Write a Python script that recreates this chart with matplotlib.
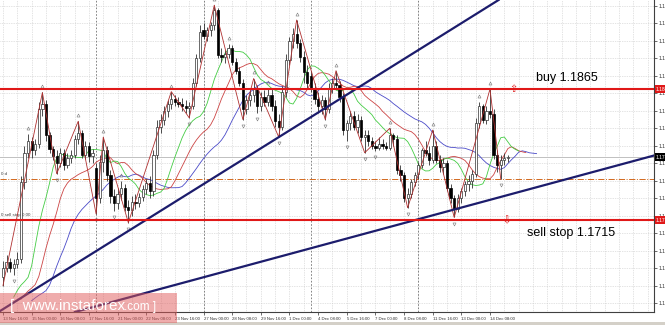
import numpy as np
import matplotlib
matplotlib.use('Agg')
import matplotlib.pyplot as plt
from matplotlib.patches import Rectangle

# EURUSD H4 candles, 13 Nov 16:00 .. 15 Dec 04:00
opens = [1.1650, 1.1660,
         1.1667, 1.1660, 1.1665, 1.1670, 1.1758, 1.1792,
         1.1806, 1.1795, 1.1802, 1.1842, 1.1848, 1.1812,
         1.1796, 1.1788, 1.1780, 1.1792, 1.1778, 1.1786,
         1.1790, 1.1808, 1.1815, 1.1790, 1.1800, 1.1788,
         1.1775, 1.1740, 1.1782, 1.1795, 1.1766, 1.1742,
         1.1735, 1.1745, 1.1752, 1.1730, 1.1726, 1.1736,
         1.1734, 1.1741, 1.1750, 1.1757, 1.1748, 1.1790,
         1.1822, 1.1830, 1.1840, 1.1848, 1.1854, 1.1850,
         1.1848, 1.1846, 1.1843, 1.1846, 1.1872, 1.1900,
         1.1933, 1.1926, 1.1932, 1.1938, 1.1955, 1.1904,
         1.1902, 1.1905, 1.1912, 1.1896, 1.1886, 1.1872,
         1.1842, 1.1852, 1.1858, 1.1866, 1.1845, 1.1856,
         1.1850, 1.1858, 1.1846, 1.1828, 1.1822, 1.1862,
         1.1898, 1.1920, 1.1928, 1.1918, 1.1902, 1.1885,
         1.1880, 1.1866, 1.1854, 1.1845, 1.1852, 1.1842,
         1.1866, 1.1872, 1.1870, 1.1856, 1.1818, 1.1826,
         1.1834, 1.1822, 1.1830, 1.1810, 1.1812, 1.1805,
         1.1800, 1.1798, 1.1802, 1.1800, 1.1797, 1.1812,
         1.1808, 1.1772, 1.1766, 1.1740, 1.1745, 1.1758,
         1.1768, 1.1778, 1.1795, 1.1792, 1.1784, 1.1800,
         1.1784, 1.1776, 1.1780, 1.1752, 1.1740, 1.1728,
         1.1740, 1.1748, 1.1756, 1.1760, 1.1768, 1.1826,
         1.1845, 1.1830, 1.1840, 1.1836, 1.1790, 1.1778,
         1.1784, 1.1786]
highs = [1.1668, 1.1675,
         1.1672, 1.1670, 1.1678, 1.1765, 1.1800, 1.1813,
         1.1810, 1.1808, 1.1850, 1.1861, 1.1852, 1.1816,
         1.1800, 1.1795, 1.1798, 1.1796, 1.1792, 1.1795,
         1.1812, 1.1828, 1.1818, 1.1805, 1.1804, 1.1796,
         1.1780, 1.1790, 1.1810, 1.1800, 1.1772, 1.1750,
         1.1752, 1.1760, 1.1756, 1.1738, 1.1742, 1.1745,
         1.1746, 1.1755, 1.1762, 1.1765, 1.1795, 1.1830,
         1.1836, 1.1845, 1.1852, 1.1862, 1.1858, 1.1856,
         1.1855, 1.1852, 1.1850, 1.1878, 1.1905, 1.1938,
         1.1940, 1.1936, 1.1942, 1.1961, 1.1958, 1.1912,
         1.1910, 1.1916, 1.1915, 1.1900, 1.1890, 1.1876,
         1.1858, 1.1864, 1.1877, 1.1870, 1.1862, 1.1864,
         1.1866, 1.1865, 1.1852, 1.1836, 1.1868, 1.1905,
         1.1925, 1.1935, 1.1944, 1.1922, 1.1908, 1.1892,
         1.1886, 1.1872, 1.1862, 1.1858, 1.1856, 1.1872,
         1.1878, 1.1886, 1.1874, 1.1860, 1.1830, 1.1840,
         1.1840, 1.1836, 1.1834, 1.1818, 1.1818, 1.1810,
         1.1806, 1.1810, 1.1808, 1.1804, 1.1820, 1.1815,
         1.1812, 1.1778, 1.1770, 1.1752, 1.1762, 1.1770,
         1.1782, 1.1798, 1.1805, 1.1800, 1.1818, 1.1805,
         1.1790, 1.1786, 1.1784, 1.1756, 1.1744, 1.1745,
         1.1752, 1.1760, 1.1766, 1.1772, 1.1832, 1.1850,
         1.1848, 1.1845, 1.1865, 1.1842, 1.1795, 1.1790,
         1.1792, 1.1790]
lows = [1.1640, 1.1655,
        1.1656, 1.1652, 1.1660, 1.1666, 1.1750, 1.1786,
        1.1786, 1.1790, 1.1798, 1.1834, 1.1806, 1.1792,
        1.1784, 1.1768, 1.1776, 1.1772, 1.1775, 1.1780,
        1.1786, 1.1802, 1.1786, 1.1785, 1.1782, 1.1780,
        1.1722, 1.1735, 1.1770, 1.1760, 1.1735, 1.1725,
        1.1728, 1.1738, 1.1725, 1.1712, 1.1720, 1.1728,
        1.1730, 1.1737, 1.1745, 1.1740, 1.1742, 1.1785,
        1.1815, 1.1824, 1.1833, 1.1842, 1.1846, 1.1844,
        1.1840, 1.1838, 1.1832, 1.1842, 1.1868, 1.1896,
        1.1922, 1.1920, 1.1926, 1.1932, 1.1900, 1.1896,
        1.1895, 1.1900, 1.1893, 1.1882, 1.1868, 1.1830,
        1.1836, 1.1845, 1.1850, 1.1838, 1.1840, 1.1846,
        1.1845, 1.1840, 1.1822, 1.1810, 1.1818, 1.1856,
        1.1892, 1.1912, 1.1912, 1.1896, 1.1872, 1.1866,
        1.1862, 1.1848, 1.1838, 1.1836, 1.1830, 1.1838,
        1.1860, 1.1866, 1.1850, 1.1812, 1.1806, 1.1818,
        1.1818, 1.1815, 1.1806, 1.1792, 1.1800, 1.1796,
        1.1794, 1.1795, 1.1796, 1.1795, 1.1795, 1.1800,
        1.1768, 1.1760, 1.1736, 1.1729, 1.1740, 1.1754,
        1.1762, 1.1774, 1.1788, 1.1778, 1.1780, 1.1780,
        1.1770, 1.1768, 1.1748, 1.1735, 1.1718, 1.1724,
        1.1734, 1.1742, 1.1748, 1.1752, 1.1764, 1.1820,
        1.1826, 1.1825, 1.1832, 1.1785, 1.1770, 1.1762,
        1.1778, 1.1782]
closes = [1.1660, 1.1667,
          1.1660, 1.1665, 1.1670, 1.1758, 1.1792, 1.1806,
          1.1795, 1.1802, 1.1842, 1.1848, 1.1812, 1.1796,
          1.1788, 1.1780, 1.1792, 1.1778, 1.1786, 1.1790,
          1.1808, 1.1815, 1.1790, 1.1800, 1.1788, 1.1792,
          1.1740, 1.1782, 1.1795, 1.1766, 1.1742, 1.1735,
          1.1745, 1.1752, 1.1730, 1.1726, 1.1736, 1.1734,
          1.1741, 1.1750, 1.1757, 1.1748, 1.1790, 1.1822,
          1.1830, 1.1840, 1.1848, 1.1854, 1.1850, 1.1848,
          1.1846, 1.1843, 1.1846, 1.1872, 1.1900, 1.1930,
          1.1926, 1.1932, 1.1938, 1.1955, 1.1904, 1.1902,
          1.1905, 1.1912, 1.1896, 1.1886, 1.1872, 1.1842,
          1.1852, 1.1858, 1.1866, 1.1845, 1.1856, 1.1850,
          1.1858, 1.1846, 1.1828, 1.1822, 1.1862, 1.1898,
          1.1920, 1.1928, 1.1918, 1.1902, 1.1885, 1.1872,
          1.1866, 1.1854, 1.1845, 1.1852, 1.1842, 1.1866,
          1.1872, 1.1870, 1.1856, 1.1818, 1.1826, 1.1834,
          1.1822, 1.1830, 1.1810, 1.1812, 1.1805, 1.1800,
          1.1798, 1.1802, 1.1800, 1.1797, 1.1812, 1.1808,
          1.1772, 1.1766, 1.1740, 1.1745, 1.1758, 1.1766,
          1.1778, 1.1795, 1.1792, 1.1784, 1.1800, 1.1784,
          1.1776, 1.1780, 1.1752, 1.1740, 1.1728, 1.1740,
          1.1748, 1.1756, 1.1760, 1.1768, 1.1826, 1.1845,
          1.1830, 1.1840, 1.1836, 1.1790, 1.1778, 1.1784,
          1.1786, 1.1787]

time_labels = ['13 Nov 16:00', '15 Nov 00:00', '16 Nov 08:00', '17 Nov 16:00',
               '21 Nov 00:00', '22 Nov 08:00', '23 Nov 16:00', '27 Nov 00:00',
               '28 Nov 08:00', '29 Nov 16:00', '1 Dec 00:00', '4 Dec 08:00',
               '5 Dec 16:00', '7 Dec 00:00', '8 Dec 08:00', '11 Dec 16:00',
               '13 Dec 00:00', '14 Dec 08:00']
week_starts = [26, 56, 86, 116]

# zigzag turning bars: 'H' uses high, 'L' uses low
zigzag_bars = [0, 11, 15, 21, 26, 28, 35, 47, 52, 59, 67, 70, 77, 82, 90, 93,
               101, 108, 113, 120, 126, 136, 139]
zigzag_kind = ['L', 'H', 'L', 'H', 'L', 'H', 'L', 'H', 'L', 'H', 'L', 'H',
               'L', 'H', 'L', 'H', 'L', 'H', 'L', 'H', 'L', 'H', 'L']

# trend lines as two (bar, price) anchors each
trend_upper = [(22, 1.16692), (77.4, 1.18109)]
trend_lower = [(33, 1.1624), (172, 1.1778)]

buy_level = 1.1865
sell_level = 1.1715
dash_level = 1.1762
alligator_seed = 1.1620

o = np.array(opens); h = np.array(highs); l = np.array(lows); c = np.array(closes)
n = len(c)
idx = np.arange(n)

fig = plt.figure(figsize=(6.65, 3.25), dpi=100, facecolor='white')
ax = fig.add_axes([0, 13 / 325, 654 / 665, 312 / 325])
ax.set_xlim(-0.838, 181.8)
ax.set_ylim(1.16097, 1.19669)

# grid
price_ticks = np.arange(1.162, 1.1961, 0.002)
for i in range(0, 184, 4):
    ax.axvline(i, color='#c8c8c8', lw=0.5, ls=(0, (1, 1.5)), zorder=0)
for p in price_ticks:
    ax.axhline(p, color='#c8c8c8', lw=0.5, ls=(0, (1, 1.5)), zorder=0)
for w in week_starts:
    ax.axvline(w, color='#707070', lw=0.6, ls=(0, (2, 2)), zorder=0.5)

# levels
ax.axhline(dash_level, color='#d2691e', lw=0.7, ls='-.', zorder=1)
ax.axhline(c[-1], color='#c0c0c0', lw=0.7, zorder=1)

# alligator
median = (h + l) / 2
def smma(vals, period, seed):
    out, s = [], seed
    for v in vals:
        s = (s * (period - 1) + v) / period
        out.append(s)
    return np.array(out)
ax.plot(idx + 8, smma(median, 13, alligator_seed), color='#4a4ac8', lw=0.6, zorder=2)
ax.plot(idx + 5, smma(median, 8, alligator_seed), color='#cc4444', lw=0.6, zorder=2)
ax.plot(idx + 3, smma(median, 5, alligator_seed), color='#44cc44', lw=0.6, zorder=2)

# candles
up = c >= o
body_lo = np.minimum(o, c)
body_h = np.maximum(np.abs(c - o), 0.00003)
ax.vlines(idx, l, h, color='#303030', lw=0.6, zorder=3)
ax.bar(idx[up], body_h[up], bottom=body_lo[up], width=0.62, color='white',
       edgecolor='#303030', lw=0.5, zorder=4)
ax.bar(idx[~up], body_h[~up], bottom=body_lo[~up], width=0.62, color='black',
       edgecolor='black', lw=0.5, zorder=4)

# zigzag
zz_y = [h[b] if k == 'H' else l[b] for b, k in zip(zigzag_bars, zigzag_kind)]
ax.plot(zigzag_bars, zz_y, color='#b03030', lw=0.6, zorder=5)

# fractals
for i in range(2, n - 2):
    if h[i] > max(h[i - 2], h[i - 1]) and h[i] >= max(h[i + 1], h[i + 2]):
        ax.plot(i, h[i] + 0.0007, marker='^', ms=2.2, mfc='none', mec='#777777', mew=0.4, zorder=5)
    if l[i] < min(l[i - 2], l[i - 1]) and l[i] <= min(l[i + 1], l[i + 2]):
        ax.plot(i, l[i] - 0.0007, marker='v', ms=2.2, mfc='none', mec='#777777', mew=0.4, zorder=5)

# trend lines and order levels
ax.axline(*trend_upper, color='#1c1c6c', lw=1.6, zorder=6)
ax.axline(*trend_lower, color='#1c1c6c', lw=1.6, zorder=6)
ax.axhline(buy_level, color='#e01818', lw=1.5, zorder=7)
ax.axhline(sell_level, color='#e01818', lw=1.5, zorder=7)
ax.text(142.5, buy_level, '\u21e7', color='#e01818', fontsize=7, ha='center', va='center', zorder=8)
ax.text(140.5, sell_level, '\u21e9', color='#e01818', fontsize=7, ha='center', va='center', zorder=8)
ax.text(166.2, 1.1878, 'buy 1.1865', fontsize=9, family='Liberation Sans', ha='right', va='center')
ax.text(171, 1.1700, 'sell stop 1.1715', fontsize=9, family='Liberation Sans', ha='right', va='center')
ax.text(-0.5, sell_level + 0.0003, '0 sell stop 0.00', fontsize=3.2, color='#404040',
        family='Liberation Sans', va='bottom')
ax.text(-0.5, dash_level + 0.0003, '0 d', fontsize=3.2, color='#404040',
        family='Liberation Sans', va='bottom')

# axes
for s in ['top', 'left']:
    ax.spines[s].set_visible(False)
for s in ['right', 'bottom']:
    ax.spines[s].set_color('#404040')
    ax.spines[s].set_linewidth(0.8)
ax.yaxis.tick_right()
ax.set_yticks(price_ticks)
ax.set_yticklabels(['%.5f' % p for p in price_ticks], family='Liberation Sans')
ax.tick_params(axis='y', labelsize=3.6, length=2, width=0.5, pad=1, colors='#303030')
ax.set_xticks(np.arange(0, 8 * len(time_labels), 8))
ax.set_xticklabels(time_labels, ha='left', family='Liberation Sans')
ax.tick_params(axis='x', labelsize=3.1, length=2, width=0.5, pad=1.5, colors='#303030')

yx = ax.get_yaxis_transform()
for p, fc in [(buy_level, '#e01818'), (sell_level, '#e01818'), (c[-1], 'black')]:
    ax.text(1.003, p, '%.5f' % p, transform=yx, fontsize=3.6, color='white', va='center',
            ha='left', zorder=9, clip_on=False, family='Liberation Sans',
            bbox=dict(boxstyle='square,pad=0.25', fc=fc, ec='none'))

# watermark and bottom strip
fig.patches.append(Rectangle((0, 2 / 325), 177 / 665, 30 / 325, transform=fig.transFigure,
                             facecolor='#e05a5a', alpha=0.5, edgecolor='none', zorder=10))
fig.text(10 / 665, 1 - 306 / 325, '[  www.instaforex', color='white', fontsize=11,
         family='Liberation Sans', ha='left', va='center', zorder=11)
fig.text(124 / 665, 1 - 307 / 325, '.com ]', color='white', fontsize=8.5,
         family='Liberation Sans', ha='left', va='center', zorder=11)
fig.patches.append(Rectangle((0, 0), 1, 3 / 325, transform=fig.transFigure,
                             facecolor='#d4d0c8', edgecolor='none', zorder=9))

fig.savefig('out.png', dpi=100)
